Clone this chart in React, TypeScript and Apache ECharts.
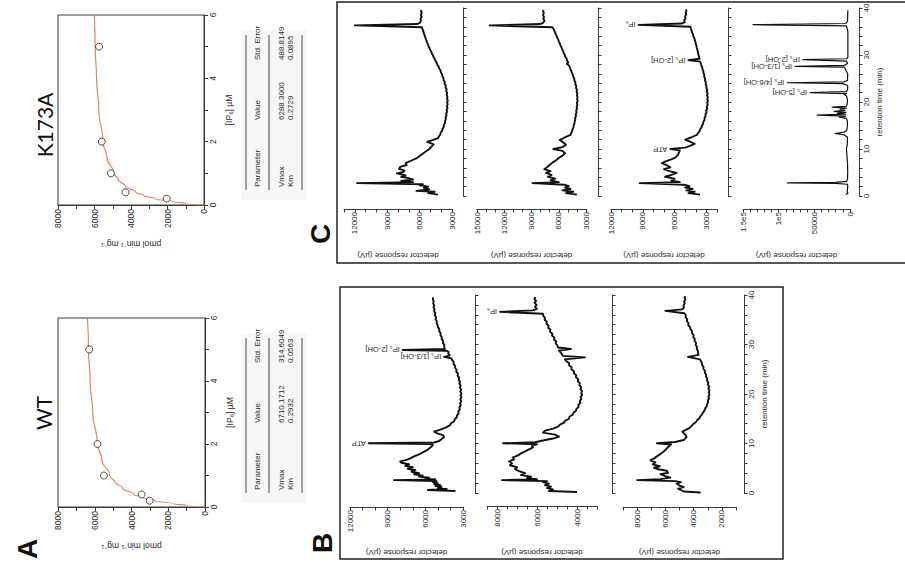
import React, { useEffect, useRef } from 'react';
import * as echarts from 'echarts';

const FONT = '"Liberation Sans", Arial, Helvetica, sans-serif';
const AXIS = '#3a3a3a';
const TXT = '#2a2a2a';

// ---------- Panel A: kinetics ----------
const measuredConc = [0.2, 0.4, 1, 2, 5];
const wtRate = [3010, 3450, 5500, 5850, 6300];
const k173aRate = [2050, 4300, 5100, 5600, 5750];
const fitConc = [0, 0.05, 0.1, 0.2, 0.3, 0.4, 0.6, 0.8, 1, 1.5, 2, 3, 4, 5, 6];
const wtFitRate = [0, 978, 1707, 2721, 3394, 3872, 4508, 4911, 5189, 5613, 5852, 6113, 6252, 6339, 6398];
const k173aFitRate = [0, 974, 1686, 2660, 3293, 3738, 4322, 4689, 4940, 5320, 5533, 5764, 5887, 5963, 6015];
const rateTicks = [0, 2000, 4000, 6000, 8000];
const concTicks = [0, 2, 4, 6];
const tableHeader = ['Parameter', 'Value', 'Std. Error'];
const wtTable = [['Vmax', '6710.1712', '314.6049'], ['Km', '0.2932', '0.0563']];
const k173aTable = [['Vmax', '6288.3000', '488.8149'], ['Km', '0.2729', '0.0895']];

// ---------- Chromatograms: [retention time (min), detector response (µV)] ----------
const b1Trace = [[0.4,3600],[0.6,5800],[0.8,4300],[1.0,5000],[1.2,4700],[1.4,5200],[1.6,4800],[1.8,5300],[2.0,5000],[2.2,5400],[2.4,5100],[2.6,8500],[2.75,5200],[2.9,6000],[3.1,5700],[3.3,6500],[3.5,6200],[3.8,6900],[4.0,6500],[4.3,7100],[4.6,6800],[4.9,7400],[5.2,7000],[5.5,7600],[5.8,7300],[6.1,7900],[6.4,8000],[6.7,7500],[7.0,7200],[7.4,6900],[7.8,6500],[8.2,6200],[8.6,5900],[9.0,5700],[9.4,5500],[9.7,5400],[9.9,5600],[10.05,10500],[10.2,5300],[10.5,4900],[10.9,4700],[11.3,4500],[11.7,4600],[12.1,5100],[12.4,5300],[12.8,4800],[13.3,4300],[13.7,4050],[14.1,3950],[14.5,3700],[14.9,3650],[15.3,3500],[15.7,3480],[16.1,3350],[16.5,3380],[16.9,3250],[17.3,3280],[17.7,3180],[18.1,3230],[18.5,3150],[18.9,3220],[19.3,3130],[19.7,3200],[20.1,3120],[20.5,3210],[20.9,3150],[21.3,3250],[21.7,3190],[22.1,3290],[22.5,3240],[22.9,3350],[23.3,3310],[23.7,3430],[24.1,3400],[24.5,3540],[24.9,3510],[25.3,3640],[25.7,3620],[26.1,3760],[26.5,3740],[26.9,3880],[27.2,3920],[27.5,4500],[27.8,4050],[28.2,4180],[28.5,4150],[28.75,4350],[28.9,7800],[29.1,4450],[29.5,4500],[29.9,4480],[30.3,4600],[30.7,4580],[31.1,4700],[31.5,4690],[31.9,4800],[32.3,4790],[32.7,4900],[33.1,4880],[33.5,5000],[33.9,5020],[34.3,5100],[34.7,5080],[35.1,5180],[35.5,5150],[35.9,5240],[36.3,5200],[36.7,5300],[37.1,5260],[37.5,5350],[37.9,5300],[38.3,5380],[38.7,5330],[39.1,5400],[39.5,5380]];
const b2Trace = [[0.2,4000],[0.4,5400],[0.7,5200],[1.0,5500],[1.3,5300],[1.6,5600],[1.9,5400],[2.2,5700],[2.4,5500],[2.6,7750],[2.8,6000],[3.0,6500],[3.3,6300],[3.6,6800],[4.0,6600],[4.4,6900],[4.8,7100],[5.2,7000],[5.6,7350],[6.0,7250],[6.4,7400],[6.8,7150],[7.2,7200],[7.6,6950],[8.0,6800],[8.4,6600],[8.8,6400],[9.2,6200],[9.6,6250],[9.85,6000],[10.05,7700],[10.25,6100],[10.6,5700],[11.0,5200],[11.4,4900],[11.8,5100],[12.2,5700],[12.6,5600],[13.0,5200],[13.4,4950],[13.8,4850],[14.2,4650],[14.6,4600],[15.0,4400],[15.4,4380],[15.8,4220],[16.2,4180],[16.6,4050],[17.0,4030],[17.4,3920],[17.8,3930],[18.2,3830],[18.6,3860],[19.0,3780],[19.4,3820],[19.8,3740],[20.2,3790],[20.6,3750],[21.0,3830],[21.4,3790],[21.8,3880],[22.2,3860],[22.6,3960],[23.0,3940],[23.4,4050],[23.8,4040],[24.2,4160],[24.6,4150],[25.0,4280],[25.4,4270],[25.8,4400],[26.2,4390],[26.6,4520],[27.0,4600],[27.4,3600],[27.7,4700],[28.3,4800],[28.8,4900],[29.1,4300],[29.4,4950],[29.8,4980],[30.2,5060],[30.6,5040],[31.0,5150],[31.4,5130],[31.8,5250],[32.2,5230],[32.6,5350],[33.0,5330],[33.4,5440],[33.8,5420],[34.2,5530],[34.6,5510],[35.0,5620],[35.4,5600],[35.8,5690],[36.2,5700],[36.6,7850],[36.9,6200],[37.2,6000],[37.6,6100],[38.0,6020],[38.4,6120],[38.8,6050],[39.2,6130],[39.6,6080]];
const b3Trace = [[0.1,3500],[0.3,4700],[0.6,4900],[0.9,5100],[1.2,4700],[1.5,5000],[1.9,5200],[2.2,4900],[2.4,5300],[2.6,8000],[2.8,6350],[3.1,5650],[3.4,6000],[3.8,6350],[4.1,5800],[4.5,5900],[4.8,6500],[5.1,6800],[5.4,6400],[5.8,6900],[6.2,6700],[6.6,7050],[7.0,6800],[7.4,6600],[7.8,6400],[8.2,6200],[8.7,6000],[9.3,5800],[9.8,5600],[10.05,6600],[10.3,5300],[10.7,4700],[11.3,4500],[11.8,4600],[12.4,4800],[13.1,4300],[13.5,4150],[13.9,4050],[14.3,3850],[14.7,3750],[15.1,3600],[15.5,3520],[15.9,3400],[16.3,3330],[16.7,3220],[17.1,3180],[17.5,3080],[17.9,3060],[18.3,2980],[18.7,2990],[19.1,2910],[19.5,2950],[19.9,2880],[20.3,2930],[20.7,2880],[21.1,2950],[21.5,2910],[21.9,2990],[22.3,2960],[22.7,3050],[23.1,3030],[23.5,3120],[23.9,3110],[24.3,3210],[24.7,3200],[25.1,3310],[25.5,3300],[25.9,3410],[26.3,3420],[26.7,3500],[27.0,3550],[27.5,4400],[27.9,3650],[28.3,3700],[28.7,3690],[29.1,3780],[29.5,3760],[29.9,3850],[30.3,3830],[30.7,3930],[31.1,3920],[31.5,4020],[31.9,4000],[32.3,4120],[32.7,4110],[33.1,4230],[33.5,4250],[33.9,4380],[34.3,4360],[34.7,4470],[35.1,4450],[35.5,4570],[35.9,4550],[36.3,4650],[36.8,6000],[37.1,4800],[37.5,4680],[37.9,4720],[38.3,4630],[38.7,4680],[39.1,4590],[39.5,4640],[39.8,4600]];
const c1Trace = [[0.3,4300],[0.6,5200],[0.9,4600],[1.1,6300],[1.4,5100],[1.7,5600],[2.0,5200],[2.3,6000],[2.5,5700],[2.75,11800],[2.95,6600],[3.2,7700],[3.5,6600],[3.8,7000],[4.1,7700],[4.4,7300],[4.8,8100],[5.1,7500],[5.4,7400],[5.8,7900],[6.2,7800],[6.6,7200],[7.0,7300],[7.5,6800],[8.0,6300],[8.5,6000],[9.0,5700],[9.5,5400],[10.0,5100],[10.5,4900],[11.0,4700],[11.5,5300],[11.9,4800],[12.3,4300],[12.7,4200],[13.1,4080],[13.5,4050],[13.9,3900],[14.3,3880],[14.7,3760],[15.1,3760],[15.5,3650],[15.9,3660],[16.3,3570],[16.7,3590],[17.1,3510],[17.5,3540],[17.9,3460],[18.3,3500],[18.7,3420],[19.1,3470],[19.5,3400],[19.9,3450],[20.3,3390],[20.7,3460],[21.1,3420],[21.5,3490],[21.9,3450],[22.3,3530],[22.7,3500],[23.1,3600],[23.5,3580],[23.9,3690],[24.3,3680],[24.7,3790],[25.1,3790],[25.5,3900],[25.9,3920],[26.3,4030],[26.7,4060],[27.1,4180],[27.5,4230],[27.9,4360],[28.3,4400],[28.7,4530],[29.1,4580],[29.5,4700],[29.9,4750],[30.3,4870],[30.7,4920],[31.1,5030],[31.5,5090],[31.9,5180],[32.3,5230],[32.7,5310],[33.1,5370],[33.5,5440],[33.9,5500],[34.3,5560],[34.7,5620],[35.1,5660],[35.5,5730],[35.9,5780],[36.3,12000],[36.6,6200],[36.9,5950],[37.3,5870],[37.7,5920],[38.1,5810],[38.5,5880],[38.9,5800],[39.3,5860],[39.6,5820]];
const c2Trace = [[0.3,4000],[0.6,5200],[0.9,4400],[1.2,5600],[1.5,4700],[1.8,5300],[2.1,4900],[2.4,5400],[2.75,8900],[2.95,6000],[3.3,6900],[3.7,6400],[4.1,7200],[4.5,6800],[4.9,7400],[5.3,6900],[5.7,7600],[6.1,7300],[6.6,7000],[7.1,6700],[7.6,6300],[8.1,6000],[8.6,5600],[9.1,5300],[9.6,5600],[10.0,6600],[10.4,5600],[10.9,5200],[11.4,5500],[11.9,5900],[12.4,5400],[13.0,4700],[13.4,4620],[13.8,4520],[14.2,4480],[14.6,4380],[15.0,4360],[15.4,4270],[15.8,4260],[16.2,4180],[16.6,4200],[17.0,4100],[17.4,4130],[17.8,4040],[18.2,4080],[18.6,3990],[19.0,4030],[19.4,3950],[19.8,4000],[20.2,3920],[20.6,3980],[21.0,3930],[21.4,4000],[21.8,3950],[22.2,4030],[22.6,4000],[23.0,4090],[23.4,4070],[23.8,4170],[24.2,4170],[24.6,4280],[25.0,4300],[25.4,4410],[25.8,4450],[26.2,4560],[26.6,4610],[27.0,4730],[27.4,4780],[27.8,4900],[28.1,5100],[28.4,4950],[28.8,5080],[29.2,5130],[29.6,5280],[30.0,5330],[30.4,5450],[30.8,5510],[31.2,5620],[31.6,5690],[32.0,5800],[32.4,5870],[32.8,5970],[33.2,6040],[33.6,6140],[34.0,6220],[34.4,6320],[34.8,6400],[35.2,6500],[35.6,6580],[35.9,6700],[36.3,13600],[36.6,8000],[36.9,7700],[37.3,7560],[37.7,7700],[38.1,7620],[38.5,7740],[38.9,7640],[39.3,7720],[39.6,7680]];
const c3Trace = [[0.3,3600],[0.6,4700],[0.9,4100],[1.2,4900],[1.5,4300],[1.8,5000],[2.1,4600],[2.4,5100],[2.75,9300],[2.95,5500],[3.3,6300],[3.7,6000],[4.1,6900],[4.5,6300],[4.9,5800],[5.3,6500],[5.7,7000],[6.1,6400],[6.5,6700],[7.0,7200],[7.4,6800],[7.8,6300],[8.2,5900],[8.7,5700],[9.2,5600],[9.7,5500],[10.0,6400],[10.3,5000],[10.7,4500],[11.1,4100],[11.6,4600],[12.0,5000],[12.5,4400],[13.0,3900],[13.4,3780],[13.8,3650],[14.2,3600],[14.6,3450],[15.0,3420],[15.4,3300],[15.8,3290],[16.2,3170],[16.6,3180],[17.0,3070],[17.4,3090],[17.8,2980],[18.2,3020],[18.6,2920],[19.0,2970],[19.4,2870],[19.8,2930],[20.2,2850],[20.6,2920],[21.0,2860],[21.4,2940],[21.8,2880],[22.2,2970],[22.6,2920],[23.0,3010],[23.4,2980],[23.8,3070],[24.2,3050],[24.6,3140],[25.0,3120],[25.4,3210],[25.8,3200],[26.2,3290],[26.6,3290],[27.0,3380],[27.4,3390],[27.8,3480],[28.2,3520],[28.6,3600],[28.9,4700],[29.2,3650],[29.6,3700],[30.0,3740],[30.4,3780],[30.8,3830],[31.2,3850],[31.6,3920],[32.0,3940],[32.4,4010],[32.8,4030],[33.2,4100],[33.6,4140],[34.0,4230],[34.4,4270],[34.8,4360],[35.2,4400],[35.6,4460],[36.0,4500],[36.4,9400],[36.7,5300],[37.0,5050],[37.4,5100],[37.8,4960],[38.2,5020],[38.6,4900],[39.0,4960],[39.4,4880],[39.7,4930]];
const c4Trace = [[0.3,6000],[0.6,3000],[1.0,4000],[1.5,3500],[2.0,3200],[2.5,3500],[2.7,20000],[2.8,88000],[2.9,20000],[3.1,5000],[3.5,3500],[5.0,3200],[7.0,3500],[9.0,4500],[10.0,5000],[11.0,3800],[12.5,3500],[13.0,8000],[13.3,21000],[13.6,8000],[14.0,4500],[15.0,3500],[16.0,3800],[16.5,5000],[16.8,15000],[17.0,6000],[17.2,46000],[17.4,6000],[17.6,18000],[17.8,6000],[18.0,22000],[18.2,7000],[18.5,14000],[18.7,5000],[18.9,25000],[19.1,5000],[19.5,4000],[20.5,3500],[21.3,5000],[21.6,8000],[21.8,5000],[22.0,56000],[22.2,5000],[22.6,3500],[23.5,3200],[23.9,10000],[24.1,88000],[24.3,8000],[24.6,3500],[26.0,3200],[27.4,8000],[27.6,77000],[27.8,8000],[28.2,3500],[28.7,5000],[29.0,66000],[29.2,5000],[29.5,3000],[32.0,3000],[35.0,3000],[36.2,5000],[36.45,136000],[36.7,6000],[37.2,3500],[39.5,3000]];

// peak annotations: [retention time, label]
const b1Peaks = [[10.05, 'ATP'], [27.5, 'IP₅ [1/3-OH]'], [28.9, 'IP₅ [2-OH]']];
const b2Peaks = [[36.6, 'IP₆']];
const c3Peaks = [[10.0, 'ATP'], [28.9, 'IP₅ [2-OH]'], [36.4, 'IP₆']];
const c4Peaks = [[22.0, 'IP₅ [5-OH]'], [24.1, 'IP₅ [4/6-OH]'], [27.6, 'IP₅ [1/3-OH]'], [29.0, 'IP₅ [2-OH]']];

// response-axis ranges / tick steps / labelled ticks
const b1Axis = { min: 3000, max: 12000, step: 1000, labels: { 3000: '3000', 6000: '6000', 9000: '9000', 12000: '12000' } };
const b2Axis = { min: 3000, max: 8500, step: 500, labels: { 4000: '4000', 6000: '6000', 8000: '8000' } };
const b3Axis = { min: 1000, max: 9000, step: 1000, labels: { 2000: '2000', 4000: '4000', 6000: '6000', 8000: '8000' } };
const c1Axis = { min: 3000, max: 13000, step: 1000, labels: { 3000: '3000', 6000: '6000', 9000: '9000', 12000: '12000' } };
const c2Axis = { min: 3000, max: 15000, step: 1000, labels: { 3000: '3000', 6000: '6000', 9000: '9000', 12000: '12000', 15000: '15000' } };
const c3Axis = { min: 2000, max: 12000, step: 1000, labels: { 3000: '3000', 6000: '6000', 9000: '9000', 12000: '12000' } };
const c4Axis = { min: 0, max: 150000, step: 10000, labels: { 0: '0', 50000: '50000', 100000: '1e5', 150000: '1.5e5' } };
const timeLabels = [0, 10, 20, 30, 40];

// layout (pixels) of each chromatogram
const chroms = [
  { trace: b1Trace, peaks: b1Peaks, axis: b1Axis, left: 350, width: 113, top: 295, height: 198, xOff: 14, yOff: 12, timeLab: false, nameGap: 41 },
  { trace: b2Trace, peaks: b2Peaks, axis: b2Axis, left: 487, width: 110, top: 295, height: 198, xOff: 13, yOff: 15, timeLab: false, nameGap: 42 },
  { trace: b3Trace, peaks: [], axis: b3Axis, left: 623, width: 113, top: 295, height: 198, xOff: 14, yOff: 8, timeLab: true, nameGap: 41 },
  { trace: c1Trace, peaks: [], axis: c1Axis, left: 344, width: 108, top: 8, height: 188, xOff: 13, yOff: 11, timeLab: false, nameGap: 42 },
  { trace: c2Trace, peaks: [], axis: c2Axis, left: 477, width: 109, top: 8, height: 188, xOff: 13, yOff: 12, timeLab: false, nameGap: 42 },
  { trace: c3Trace, peaks: c3Peaks, axis: c3Axis, left: 611, width: 106, top: 8, height: 188, xOff: 13, yOff: 11, timeLab: false, nameGap: 42 },
  { trace: c4Trace, peaks: c4Peaks, axis: c4Axis, left: 743, width: 107, top: 8, height: 188, xOff: 13, yOff: 9, timeLab: true, nameGap: 42 },
];

const kin = [
  { name: 'K173A', rate: k173aRate, fit: k173aFitRate, table: k173aTable, left: 58, top: 15, width: 146, height: 190 },
  { name: 'WT', rate: wtRate, fit: wtFitRate, table: wtTable, left: 58, top: 318, width: 147, height: 189 },
];

const lineAxis = { show: true, onZero: false, lineStyle: { color: AXIS, width: 1 } };
const tickStyle = { show: true, length: 3.5, lineStyle: { color: AXIS, width: 1 } };

function buildOption() {
  const grid: any[] = [];
  const xAxis: any[] = [];
  const yAxis: any[] = [];
  const series: any[] = [];

  kin.forEach((k, i) => {
    grid.push({ left: k.left, top: k.top, width: k.width, height: k.height, show: true, borderColor: AXIS, borderWidth: 1, backgroundColor: 'transparent', containLabel: false, outerBoundsMode: 'none' });
    xAxis.push({
      gridIndex: i, type: 'value', min: 0, max: 8000, interval: 1000, inverse: true, position: 'bottom',
      axisLine: lineAxis, axisTick: { ...tickStyle, length: 4 },
      axisLabel: { rotate: 90, margin: 4, fontSize: 8.5, color: TXT, fontFamily: FONT, formatter: (v: number) => (rateTicks.includes(v) ? String(v) : '') },
      splitLine: { show: false },
      name: 'pmol min⁻¹ mg⁻¹', nameLocation: 'middle', nameRotate: 180, nameGap: 34,
      nameTextStyle: { fontSize: 8.5, color: TXT, fontFamily: FONT },
    });
    yAxis.push({
      gridIndex: i, type: 'value', min: 0, max: 6, interval: 1, position: 'right',
      axisLine: lineAxis, axisTick: { ...tickStyle, length: 4 },
      axisLabel: { rotate: 90, margin: 4, fontSize: 8.5, color: TXT, fontFamily: FONT, formatter: (v: number) => (concTicks.includes(v) ? String(v) : '') },
      splitLine: { show: false },
      name: '[IP₆] µM', nameLocation: 'middle', nameRotate: 90, nameGap: 20,
      nameTextStyle: { fontSize: 8.5, color: TXT, fontFamily: FONT },
    });
    series.push({
      type: 'line', xAxisIndex: i, yAxisIndex: i, silent: true, showSymbol: false, symbol: 'none',
      smooth: true, smoothMonotone: 'y',
      data: fitConc.map((c, j) => [k.fit[j], c]),
      lineStyle: { color: '#d98a68', width: 1.2 },
    });
    series.push({
      type: 'scatter', xAxisIndex: i, yAxisIndex: i, silent: true, symbol: 'circle', symbolSize: 7,
      data: measuredConc.map((c, j) => [k.rate[j], c]),
      itemStyle: { color: '#ffffff', borderColor: '#222', borderWidth: 1 }, z: 5,
    });
  });

  chroms.forEach((c, n) => {
    const i = n + kin.length;
    grid.push({ left: c.left, top: c.top, width: c.width, height: c.height, show: false, containLabel: false, outerBoundsMode: 'none' });
    const labels: any = c.axis.labels;
    xAxis.push({
      gridIndex: i, type: 'value', min: c.axis.min, max: c.axis.max, interval: c.axis.step, inverse: true,
      position: 'bottom', offset: c.xOff,
      axisLine: lineAxis, axisTick: tickStyle,
      axisLabel: { rotate: 90, margin: 3, fontSize: 8, color: TXT, fontFamily: FONT, formatter: (v: number) => labels[v] ?? '' },
      splitLine: { show: false },
      name: 'detector response (µV)', nameLocation: 'middle', nameRotate: 180, nameGap: c.nameGap,
      nameTextStyle: { fontSize: 8, color: TXT, fontFamily: FONT },
    });
    yAxis.push({
      gridIndex: i, type: 'value', min: 0, max: 40, interval: 2, position: 'right', offset: c.yOff,
      axisLine: lineAxis, axisTick: tickStyle,
      axisLabel: { show: c.timeLab, rotate: 90, margin: 3, fontSize: 8, color: TXT, fontFamily: FONT, formatter: (v: number) => (timeLabels.includes(v) ? String(v) : '') },
      splitLine: { show: false },
      name: c.timeLab ? 'retention time (min)' : '', nameLocation: 'middle', nameRotate: 90, nameGap: 16,
      nameTextStyle: { fontSize: 8, color: TXT, fontFamily: FONT },
    });
    series.push({
      type: 'line', xAxisIndex: i, yAxisIndex: i, silent: true, showSymbol: false, symbol: 'none',
      data: c.trace.map(([t, r]) => [r, t]),
      lineStyle: { color: '#111', width: n === 6 ? 1.2 : 1.9, join: 'round' },
    });
  });

  return {
    animation: false,
    backgroundColor: '#ffffff',
    textStyle: { fontFamily: FONT },
    grid, xAxis, yAxis, series,
  };
}

function rotText(x: number, y: number, text: string, size: number, rot: number, align = 'left', weight: any = 'normal', family = FONT, fill = TXT) {
  return {
    type: 'text', x, y, rotation: rot, silent: true, z: 10,
    style: { text, fontSize: size, fontFamily: family, fontWeight: weight, fill, align, verticalAlign: 'middle' },
  };
}

function tableGraphics(base: number, rows: string[][]) {
  const top = base - 155;
  const els: any[] = [];
  els.push({ type: 'rect', shape: { x: 241, y: top - 5, width: 66, height: 170 }, style: { fill: '#f7f7f7' }, silent: true, z: 1 });
  [246, 269, 302].forEach((x) => els.push({ type: 'line', shape: { x1: x, y1: top, x2: x, y2: base }, style: { stroke: '#444', lineWidth: 1 }, silent: true, z: 2 }));
  const colY = [base - 3, base - 70, base - 130];
  tableHeader.forEach((h, j) => els.push(rotText(257, colY[j], h, 8, Math.PI / 2)));
  rows.forEach((row, r) => row.forEach((cell, j) => els.push(rotText(281 + r * 9, colY[j], cell, 8, Math.PI / 2))));
  return els;
}

function buildGraphics(chart: any) {
  const g: any[] = [];
  // panel frames
  g.push({ type: 'rect', shape: { x: 337, y: 2, width: 600, height: 261 }, style: { fill: 'none', stroke: '#222', lineWidth: 1.5 }, silent: true });
  g.push({ type: 'rect', shape: { x: 340, y: 287, width: 443, height: 272 }, style: { fill: 'none', stroke: '#222', lineWidth: 1.5 }, silent: true });
  // panel letters
  g.push(rotText(27, 549, 'A', 28, Math.PI / 2, 'center', 'bold', FONT, '#111'));
  g.push(rotText(322, 543, 'B', 28, Math.PI / 2, 'center', 'bold', FONT, '#111'));
  g.push(rotText(320, 234, 'C', 28, Math.PI / 2, 'center', 'bold', FONT, '#111'));
  // kinetics titles & tables
  g.push(rotText(44, 125, kin[0].name, 21, Math.PI / 2, 'center', 'normal', 'Lato, "Open Sans", sans-serif', '#111'));
  g.push(rotText(43, 413, kin[1].name, 21, Math.PI / 2, 'center', 'normal', 'Lato, "Open Sans", sans-serif', '#111'));
  g.push(...tableGraphics(190, kin[0].table));
  g.push(...tableGraphics(493, kin[1].table));
  // peak annotations
  chroms.forEach((c, n) => {
    const i = n + kin.length;
    c.peaks.forEach(([t0, label]: any) => {
      let best: number[] | null = null;
      c.trace.forEach((p) => {
        if (Math.abs(p[0] - t0) < 0.15 && (!best || p[1] > best[1])) best = p;
      });
      if (!best) return;
      const px = chart.convertToPixel({ xAxisIndex: i, yAxisIndex: i }, [best[1], best[0]]);
      if (!px) return;
      g.push(rotText(px[0] - 3, px[1], label, 7.5, Math.PI));
    });
  });
  return g;
}

export default function App() {
  const ref = useRef<HTMLDivElement>(null);
  useEffect(() => {
    const el = ref.current;
    if (!el) return;
    const chart = echarts.init(el, null, { renderer: 'svg' });
    chart.setOption(buildOption() as any);
    chart.setOption({ graphic: buildGraphics(chart) } as any);
    return () => chart.dispose();
  }, []);
  return <div ref={ref} style={{ position: 'fixed', left: 0, top: 0, width: 905, height: 574, background: '#fff' }} />;
}
